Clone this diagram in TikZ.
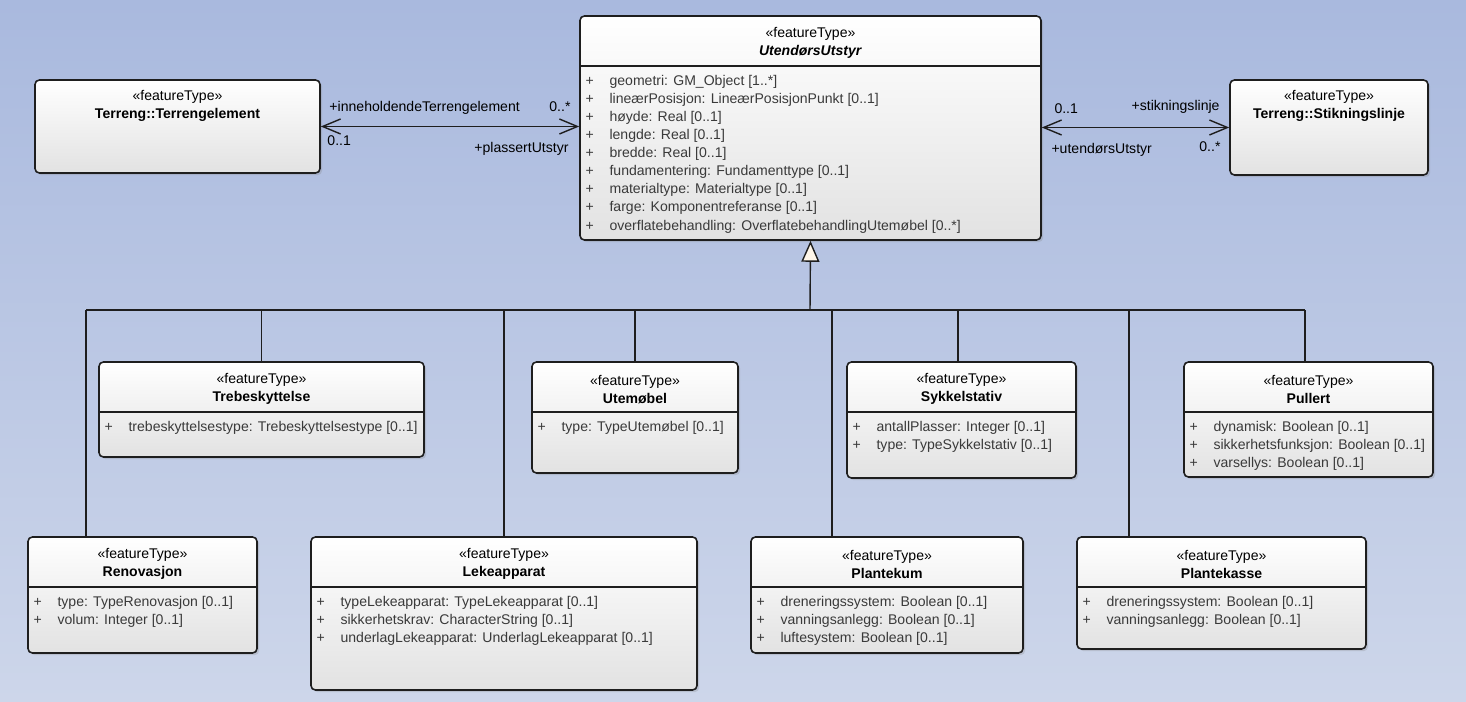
\documentclass[tikz,border=0pt]{standalone}
\usepackage{fontspec}
\setmainfont{Liberation Sans}
\usepackage{xcolor}
\definecolor{BgTop}{HTML}{A9B9DE}
\definecolor{BgBot}{HTML}{CDD6EA}
\definecolor{BoxLow}{HTML}{E2E2E2}
\definecolor{Edge}{HTML}{1E1E1E}
\definecolor{AttrText}{HTML}{3A3A3A}
\definecolor{Cream}{HTML}{FFF6E8}
\usepackage{tikz}
\usetikzlibrary{arrows.meta,fit,shadows}
\newcommand{\attr}[1]{\makebox[0.48cm][l]{+}#1}

\begin{document}
\begin{tikzpicture}[x=0.02cm,y=-0.02cm,
  every node/.style={font=\fontsize{8}{10.3}\selectfont,inner sep=0pt},
  cls/.style={draw=Edge,line width=0.9pt,rounded corners=2.5pt,top color=white,bottom color=BoxLow,
    drop shadow={shadow xshift=1.2pt,shadow yshift=-1.2pt,opacity=0.25}},
  head/.style={align=center,anchor=center},
  attrs/.style={align=left,anchor=north west,text=AttrText},
  sep/.style={draw=Edge,line width=0.9pt},
  line/.style={draw=Edge,line width=0.8pt},
  assoc/.style={line,{Straight Barb[length=0.36cm,width=0.3cm]}-{Straight Barb[length=0.36cm,width=0.3cm]}},
  gen/.style={line,-{Triangle[length=0.42cm,width=0.36cm,fill=Cream]}},
  lab/.style={font=\fontsize{8}{10}\selectfont}]
\useasboundingbox (0,0) rectangle (1466,702);
\shade[top color=BgTop,bottom color=BgBot] (0,0) rectangle (1466,702);

% boxes
\node[cls,fit={(580,16) (1041,240)}] (main) {};
\node[cls,fit={(35,80) (320,173)}] (terr) {};
\node[cls,fit={(1230,80) (1428,175)}] (stik) {};
\node[cls,fit={(99,362) (424,457)}] (trebes) {};
\node[cls,fit={(532,362) (738,473)}] (utemob) {};
\node[cls,fit={(847,362) (1076,478)}] (sykkel) {};
\node[cls,fit={(1184,362) (1433,477)}] (pullert) {};
\node[cls,fit={(28,537) (257,653)}] (renov) {};
\node[cls,fit={(311,537) (697,690)}] (leke) {};
\node[cls,fit={(751,537) (1023,653)}] (kum) {};
\node[cls,fit={(1077,537) (1366,649)}] (kasse) {};

% headers
\node[head] (main-h) at ([yshift=-0.56cm]main.north) {«featureType»\\\textbf{\textit{UtendørsUtstyr}}};
\node[head] (terr-h) at ([yshift=-0.54cm]terr.north) {«featureType»\\\textbf{Terreng::Terrengelement}};
\node[head] (stik-h) at ([yshift=-0.54cm]stik.north) {«featureType»\\\textbf{Terreng::Stikningslinje}};
\node[head] (trebes-h) at ([yshift=-0.56cm]trebes.north) {«featureType»\\\textbf{Trebeskyttelse}};
\node[head] (utemob-h) at ([yshift=-0.56cm]utemob.north) {«featureType»\\\textbf{Utemøbel}};
\node[head] (sykkel-h) at ([yshift=-0.56cm]sykkel.north) {«featureType»\\\textbf{Sykkelstativ}};
\node[head] (pullert-h) at ([yshift=-0.56cm]pullert.north) {«featureType»\\\textbf{Pullert}};
\node[head] (renov-h) at ([yshift=-0.56cm]renov.north) {«featureType»\\\textbf{Renovasjon}};
\node[head] (leke-h) at ([yshift=-0.56cm]leke.north) {«featureType»\\\textbf{Lekeapparat}};
\node[head] (kum-h) at ([yshift=-0.56cm]kum.north) {«featureType»\\\textbf{Plantekum}};
\node[head] (kasse-h) at ([yshift=-0.56cm]kasse.north) {«featureType»\\\textbf{Plantekasse}};

% compartments
\foreach \c in {main,trebes,utemob,sykkel,pullert,renov,leke,kum,kasse}
  \draw[sep] ([yshift=-1.02cm]\c.north west) -- ([yshift=-1.02cm]\c.north east);

\node[attrs] (main-a) at ([xshift=0.12cm,yshift=-1.19cm]main.north west)
  {\attr{geometri: GM\_Object [1..*]}\\\attr{lineærPosisjon: LineærPosisjonPunkt [0..1]}\\\attr{høyde: Real [0..1]}\\
   \attr{lengde: Real [0..1]}\\\attr{bredde: Real [0..1]}\\\attr{fundamentering: Fundamenttype [0..1]}\\
   \attr{materialtype: Materialtype [0..1]}\\\attr{farge: Komponentreferanse [0..1]}\\
   \attr{overflatebehandling: OverflatebehandlingUtemøbel [0..*]}};
\node[attrs] (trebes-a) at ([xshift=0.12cm,yshift=-1.19cm]trebes.north west)
  {\attr{trebeskyttelsestype: Trebeskyttelsestype [0..1]}};
\node[attrs] (utemob-a) at ([xshift=0.12cm,yshift=-1.19cm]utemob.north west)
  {\attr{type: TypeUtemøbel [0..1]}};
\node[attrs] (sykkel-a) at ([xshift=0.12cm,yshift=-1.19cm]sykkel.north west)
  {\attr{antallPlasser: Integer [0..1]}\\\attr{type: TypeSykkelstativ [0..1]}};
\node[attrs] (pullert-a) at ([xshift=0.12cm,yshift=-1.19cm]pullert.north west)
  {\attr{dynamisk: Boolean [0..1]}\\\attr{sikkerhetsfunksjon: Boolean [0..1]}\\\attr{varsellys: Boolean [0..1]}};
\node[attrs] (renov-a) at ([xshift=0.12cm,yshift=-1.19cm]renov.north west)
  {\attr{type: TypeRenovasjon [0..1]}\\\attr{volum: Integer [0..1]}};
\node[attrs] (leke-a) at ([xshift=0.12cm,yshift=-1.19cm]leke.north west)
  {\attr{typeLekeapparat: TypeLekeapparat [0..1]}\\\attr{sikkerhetskrav: CharacterString [0..1]}\\
   \attr{underlagLekeapparat: UnderlagLekeapparat [0..1]}};
\node[attrs] (kum-a) at ([xshift=0.12cm,yshift=-1.19cm]kum.north west)
  {\attr{dreneringssystem: Boolean [0..1]}\\\attr{vanningsanlegg: Boolean [0..1]}\\\attr{luftesystem: Boolean [0..1]}};
\node[attrs] (kasse-a) at ([xshift=0.12cm,yshift=-1.19cm]kasse.north west)
  {\attr{dreneringssystem: Boolean [0..1]}\\\attr{vanningsanlegg: Boolean [0..1]}};

% associations
\draw[assoc] (terr.east) -- (terr.east -| main.west)
  node[lab,at start,anchor=west,xshift=0.16cm,yshift=0.38cm] (l1) {+inneholdendeTerrengelement}
  node[lab,at start,anchor=west,xshift=0.12cm,yshift=-0.28cm] (l2) {0..1}
  node[lab,at end,anchor=east,xshift=-0.16cm,yshift=0.4cm] (l3) {0..*}
  node[lab,at end,anchor=east,xshift=-0.2cm,yshift=-0.44cm] (l4) {+plassertUtstyr};
\draw[assoc] (stik.west -| main.east) -- (stik.west)
  node[lab,at start,anchor=west,xshift=0.24cm,yshift=0.38cm] (r1) {0..1}
  node[lab,at start,anchor=west,xshift=0.18cm,yshift=-0.44cm] (r2) {+utendørsUtstyr}
  node[lab,at end,anchor=east,xshift=-0.18cm,yshift=0.42cm] (r3) {+stikningslinje}
  node[lab,at end,anchor=east,xshift=-0.16cm,yshift=-0.38cm] (r4) {0..*};

% generalization
\coordinate (bus) at (810,310);
\coordinate (renov-top) at ([xshift=-1.13cm]renov.north);
\coordinate (kum-top) at ([xshift=-1.1cm]kum.north);
\coordinate (kasse-top) at ([xshift=-1.85cm]kasse.north);
\coordinate (sykkel-top) at ([xshift=-0.07cm]sykkel.north);
\coordinate (pullert-top) at ([xshift=-0.07cm]pullert.north);
\draw[gen] (bus) -- (main.south);
\draw[line] (renov-top |- bus) -- (pullert-top |- bus);
\foreach \c in {renov-top,trebes.north,leke.north,utemob.north,kum-top,sykkel-top,kasse-top,pullert-top}
  \draw[line] (\c) -- (\c |- bus);
\end{tikzpicture}
\end{document}
